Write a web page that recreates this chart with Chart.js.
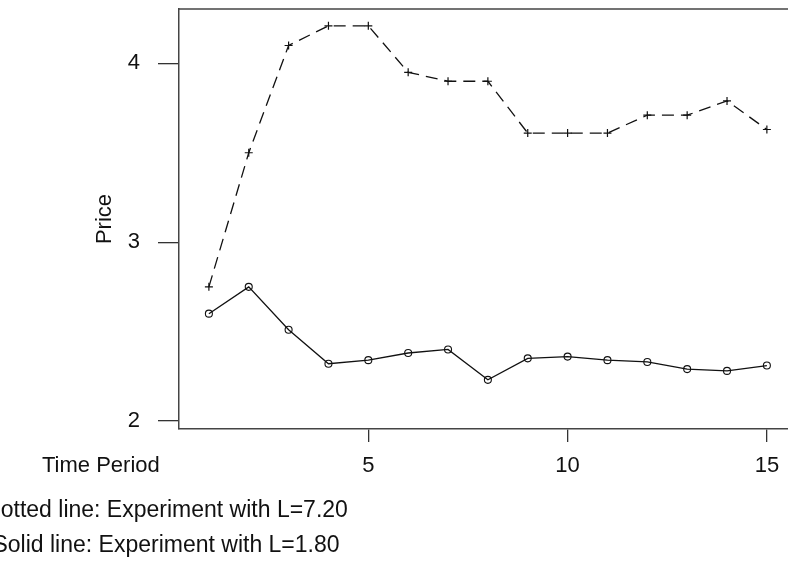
<!DOCTYPE html>
<html>
<head>
<meta charset="utf-8">
<title>Price by time period</title>
<script src="https://cdn.jsdelivr.net/npm/chart.js@4.4.1/dist/chart.umd.min.js"></script>
<style>
  body { margin: 0; background: #fff; }
  #wrap { position: relative; width: 788px; height: 569px; overflow: hidden; }
  .txt { position: absolute; font-family: "Liberation Sans", Arial, sans-serif; color: #111; white-space: nowrap; }
  #xname { left: 42px; top: 452px; font-size: 22px; }
  .note { left: 166px; transform: translateX(-50%); font-size: 23px; }
  #note1 { top: 496px; }
  #note2 { top: 531px; }
</style>
</head>
<body>
<div id="wrap">
  <canvas id="priceChart"></canvas>
  <div class="txt" id="xname">Time Period</div>
  <div class="txt note" id="note1">Dotted line: Experiment with L=7.20</div>
  <div class="txt note" id="note2">Solid line: Experiment with L=1.80</div>
</div>
<script>
// data
const periods = [1, 2, 3, 4, 5, 6, 7, 8, 9, 10, 11, 12, 13, 14, 15];
const priceHighL = [2.75, 3.50, 4.10, 4.21, 4.21, 3.95, 3.90, 3.90, 3.61, 3.61, 3.61, 3.71, 3.71, 3.79, 3.63];
const priceLowL = [2.60, 2.75, 2.51, 2.32, 2.34, 2.38, 2.40, 2.23, 2.35, 2.36, 2.34, 2.33, 2.29, 2.28, 2.31];
const xTicks = [5, 10, 15];
const yTicks = [2, 3, 4];

const ink = '#111';
const fontFamily = '"Liberation Sans", Arial, sans-serif';

/* draws the top edge of the plot box */
const topBorder = {
    id: 'topBorder',
    afterDraw(chart) {
        const a = chart.chartArea;
        const ctx = chart.ctx;
        ctx.save();
        ctx.strokeStyle = '#444';
        ctx.lineWidth = 1.5;
        ctx.beginPath();
        ctx.moveTo(a.left, a.top);
        ctx.lineTo(a.right, a.top);
        ctx.stroke();
        ctx.restore();
    }
};

const data = {
    datasets: [{
        label: 'L=7.20',
        data: periods.map((p, i) => ({ x: p, y: priceHighL[i] })),
        borderColor: ink,
        borderWidth: 1.3,
        borderDash: [12, 7],
        pointStyle: 'cross',
        pointRadius: 4,
        pointBorderColor: ink,
        pointBorderWidth: 1.2,
        fill: false,
        tension: 0
    }, {
        label: 'L=1.80',
        data: periods.map((p, i) => ({ x: p, y: priceLowL[i] })),
        borderColor: ink,
        borderWidth: 1.3,
        pointStyle: 'circle',
        pointRadius: 3.5,
        pointBackgroundColor: 'rgba(0,0,0,0)',
        pointBorderColor: ink,
        pointBorderWidth: 1.1,
        fill: false,
        tension: 0
    }]
};

const config = {
    type: 'line',
    data: data,
    options: {
        responsive: true,
        maintainAspectRatio: false,
        animation: false,
        layout: { autoPadding: false, padding: { top: 9, right: 0, left: 0, bottom: 0 } },
        plugins: {
            legend: { display: false },
            tooltip: { enabled: false }
        },
        scales: {
            x: {
                type: 'linear',
                min: 0.25,
                max: 15.53,
                afterBuildTicks: scale => { scale.ticks = xTicks.map(v => ({ value: v })); },
                afterFit: scale => {
                    scale.height = 140;
                    scale.paddingLeft = 0;
                    scale.paddingRight = 0;
                },
                border: { display: true, color: '#444', width: 1.5 },
                grid: { drawOnChartArea: false, drawTicks: true, tickLength: 13, color: '#333', lineWidth: 1.3 },
                ticks: { color: ink, padding: 11, maxRotation: 0, font: { family: fontFamily, size: 22 } }
            },
            y: {
                min: 1.955,
                max: 4.304,
                afterBuildTicks: scale => { scale.ticks = yTicks.map(v => ({ value: v })); },
                afterFit: scale => {
                    scale.width = 179;
                    scale.paddingTop = 0;
                    scale.paddingBottom = 0;
                },
                border: { display: true, color: '#444', width: 1.5 },
                grid: { drawOnChartArea: false, drawTicks: true, tickLength: 21, color: '#333', lineWidth: 1.3 },
                ticks: { color: ink, padding: 18, font: { family: fontFamily, size: 22 } },
                title: {
                    display: true,
                    text: 'Price',
                    color: ink,
                    padding: { top: 92, bottom: 0 },
                    font: { family: fontFamily, size: 22 }
                }
            }
        }
    },
    plugins: [topBorder]
};

var priceChart = new Chart(document.getElementById('priceChart'), config);
</script>
</body>
</html>
